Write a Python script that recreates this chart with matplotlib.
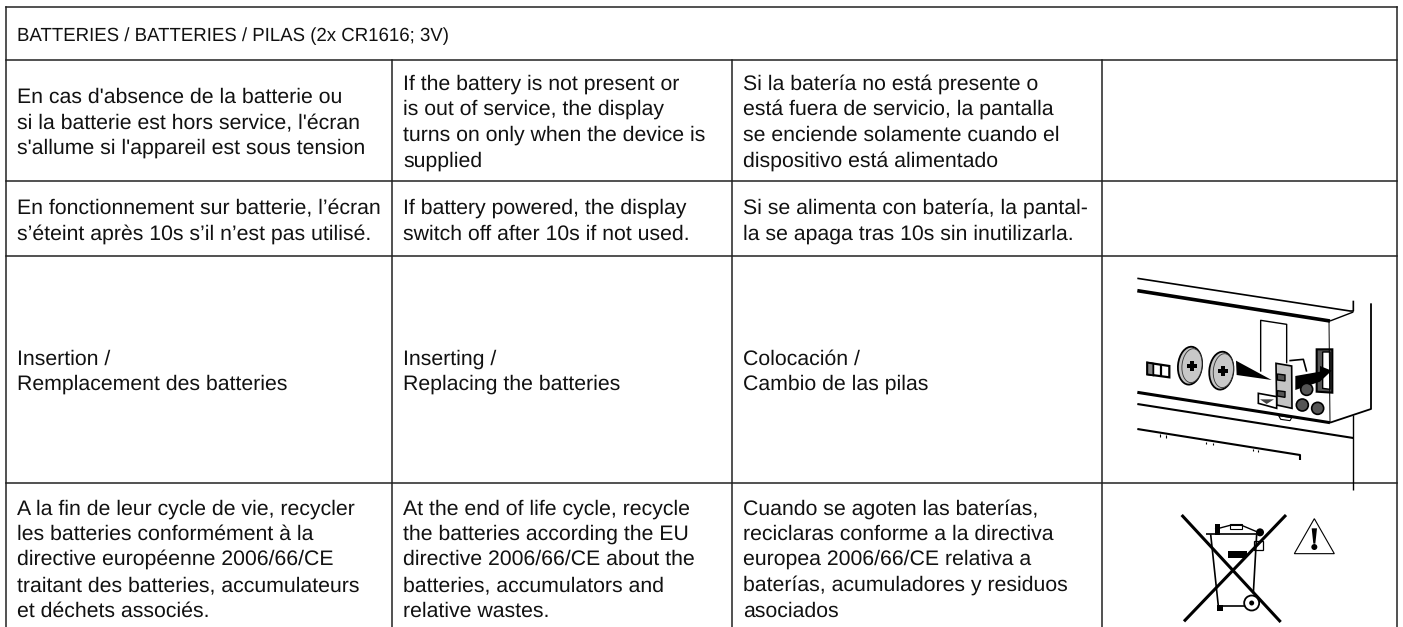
import matplotlib
matplotlib.use('Agg')
import matplotlib.pyplot as plt
from matplotlib.patches import Ellipse, Polygon, Rectangle, Circle

plt.rcParams['font.family'] = ['Liberation Sans', 'DejaVu Sans']
plt.rcParams['text.hinting'] = 'none'
plt.rcParams['text.hinting_factor'] = 8

W, H = 1403, 627
header = 'BATTERIES / BATTERIES / PILAS (2x CR1616; 3V)'
col_edges = [6, 392, 732, 1102, 1397]
row_edges = [6.5, 60, 181, 256, 483, 627]

# one entry per text line: baseline, text
fr_lines = [
    (103, "En cas d'absence de la batterie ou"),
    (129, "si la batterie est hors service, l'écran"),
    (154, "s'allume si l'appareil est sous tension"),
    (214, "En fonctionnement sur batterie, l’écran"),
    (240, "s’éteint après 10s s’il n’est pas utilisé."),
    (365, "Insertion /"),
    (390, "Remplacement des batteries"),
    (515, "A la fin de leur cycle de vie, recycler"),
    (540, "les batteries conformément à la"),
    (565, "directive européenne 2006/66/CE"),
    (591, "traitant des batteries, accumulateurs"),
    (617, "et déchets associés."),
]
en_lines = [
    (90, "If the battery is not present or"),
    (115, "is out of service, the display"),
    (141, "turns on only when the device is"),
    (167, "supplied"),
    (214, "If battery powered, the display"),
    (240, "switch off after 10s if not used."),
    (365, "Inserting /"),
    (390, "Replacing the batteries"),
    (515, "At the end of life cycle, recycle"),
    (540, "the batteries according the EU"),
    (565, "directive 2006/66/CE about the"),
    (591, "batteries, accumulators and"),
    (617, "relative wastes."),
]
es_lines = [
    (90, "Si la batería no está presente o"),
    (115, "está fuera de servicio, la pantalla"),
    (141, "se enciende solamente cuando el"),
    (167, "dispositivo está alimentado"),
    (214, "Si se alimenta con batería, la pantal-"),
    (240, "la se apaga tras 10s sin inutilizarla."),
    (365, "Colocación /"),
    (390, "Cambio de las pilas"),
    (515, "Cuando se agoten las baterías,"),
    (540, "reciclaras conforme a la directiva"),
    (565, "europea 2006/66/CE relativa a"),
    (591, "baterías, acumuladores y residuos"),
    (617, "asociados"),
]

fig = plt.figure(figsize=(W / 100, H / 100), dpi=100)
ax = fig.add_axes([0, 0, 1, 1])
ax.set_xlim(0, W)
ax.set_ylim(H, 0)
ax.axis('off')

line_col = '#222222'
for y in row_edges[:-1]:
    ax.plot([col_edges[0], col_edges[-1]], [y, y], color=line_col, lw=1.1)
for x in (col_edges[0], col_edges[-1]):
    ax.plot([x, x], [row_edges[0], H], color=line_col, lw=1.1)
for x in col_edges[1:-1]:
    ax.plot([x, x], [row_edges[1], H], color=line_col, lw=1.1)

ax.text(17, 41, header, fontsize=13.4, va='baseline', color='#111111')
for x0, lines in ((17, fr_lines), (403, en_lines), (743, es_lines)):
    for y, s in lines:
        ax.text(x0, y, s, fontsize=15.3, va='baseline', color='#111111')


# device sketch, coordinates from the 3x crop at (1090, 240)
def px(zx, zy):
    return 1090 + zx / 3, 240 + zy / 3


def stroke(points, lw=1.0):
    pts = [px(*p) for p in points]
    ax.plot([p[0] for p in pts], [p[1] for p in pts], color='black', lw=lw,
            solid_capstyle='butt')


stroke([(142, 115), (780, 213), (790, 213), (790, 182)], 1.2)
stroke([(142, 152), (720, 243)], 2.6)
stroke([(720, 243), (790, 216)], 1.0)
stroke([(717, 243), (720, 546)], 0.7)
stroke([(843, 190), (843, 507), (720, 548)], 1.3)
stroke([(142, 457), (720, 548)], 2.2)
stroke([(142, 492), (790, 594)], 1.5)
stroke([(142, 567), (630, 645), (630, 660)], 1.5)
stroke([(790, 525), (790, 750)], 1.0)
stroke([(512, 395), (512, 241), (590, 253), (590, 370)], 1.0)
for zx, zy in ((210, 583), (228, 586), (348, 605), (368, 608), (490, 626), (505, 629)):
    stroke([(zx, zy), (zx, zy + 8)], 0.8)

for zx, zy in ((300, 377), (394, 392)):
    cx, cy = px(zx, zy)
    ax.add_patch(Ellipse((cx, cy), 24, 38, angle=6, fc='#c4c4c4', ec='black', lw=1.3))
    cx2, cy2 = px(zx + 6, zy)
    ax.add_patch(Ellipse((cx2, cy2), 20, 34, angle=6, fc='#c8c8c8', ec='#333333', lw=0.6))
    ax.plot([cx2], [cy2], marker='P', color='black', ms=7, mew=0)

ax.add_patch(Polygon([px(172, 368), px(238, 378), px(238, 412), px(172, 403)],
                     fc='white', ec='black', lw=1.6))
ax.add_patch(Polygon([px(172, 368), px(190, 371), px(190, 406), px(172, 403)],
                     fc='#888888', ec='black', lw=1.3))
stroke([(212, 375), (212, 408)], 1.6)

ax.add_patch(Polygon([px(438, 362), px(545, 420), px(440, 405)], fc='black', ec='none'))
ax.add_patch(Polygon([px(558, 370), px(605, 378), px(606, 505), px(560, 495)],
                     fc='#c4c4c4', ec='black', lw=1.2))
ax.add_patch(Polygon([px(562, 402), px(585, 405), px(585, 423), px(562, 420)], fc='#555555', ec='black', lw=1))
ax.add_patch(Polygon([px(562, 452), px(585, 455), px(585, 472), px(562, 468)], fc='#555555', ec='black', lw=1))
ax.add_patch(Polygon([px(505, 460), px(560, 470), px(560, 505), px(505, 490)], fc='white', ec='black', lw=1.2))
ax.add_patch(Polygon([px(510, 478), px(552, 478), px(530, 492)], fc='#444444', ec='none'))
ax.add_patch(Polygon([px(680, 328), px(727, 328), px(727, 458), px(680, 455)], fc='#555555', ec='black', lw=1.5))
ax.add_patch(Polygon([px(698, 336), px(720, 336), px(720, 448), px(698, 445)], fc='white', ec='black', lw=1.0))
stroke([(598, 362), (640, 358), (650, 395)], 1.2)
ax.add_patch(Polygon([px(616, 408), px(690, 395), px(690, 378), px(725, 392), px(690, 425), px(616, 450)],
                     fc='black', ec='none'))
for zx, zy in ((650, 448), (637, 495), (683, 505)):
    ax.add_patch(Circle(px(zx, zy), 6, fc='#555555', ec='black', lw=1.2))
ax.add_patch(Polygon([px(566, 527), px(605, 533), px(600, 542), px(572, 538)], fc='white', ec='black', lw=0.8))


# recycling marks, coordinates from the 3x crop at (1090, 450)
def qx(zx, zy):
    return 1090 + zx / 3, 450 + zy / 3


def bin_stroke(points, lw=1.0):
    pts = [qx(*p) for p in points]
    ax.plot([p[0] for p in pts], [p[1] for p in pts], color='black', lw=lw,
            solid_capstyle='butt')


bin_stroke([(275, 195), (572, 516)], 2.2)
bin_stroke([(588, 195), (282, 514)], 2.2)
bin_stroke([(348, 253), (500, 253)], 1.2)
bin_stroke([(362, 253), (385, 468), (465, 468)], 1.2)
bin_stroke([(500, 253), (490, 430)], 1.2)
bin_stroke([(375, 238), (420, 226), (455, 226), (500, 245)], 1.0)
ax.add_patch(Rectangle(qx(420, 222), 12, 4.5, fc='white', ec='black', lw=0.8))
ax.add_patch(Rectangle(qx(375, 222), 5, 11, fc='black', ec='none'))
ax.add_patch(Circle(qx(510, 247), 4, fc='black', ec='none'))
ax.add_patch(Rectangle(qx(493, 274), 9, 9, fc='white', ec='black', lw=0.9))
ax.add_patch(Rectangle(qx(414, 303), 19, 7, fc='black', ec='none'))
ax.add_patch(Rectangle(qx(381, 466), 6, 6, fc='black', ec='none'))
ax.add_patch(Circle(qx(485, 459), 7.5, fc='white', ec='black', lw=1.3))
ax.add_patch(Circle(qx(485, 459), 2.5, fc='black', ec='none'))
ax.add_patch(Polygon([qx(673, 206), qx(733, 311), qx(613, 311)], fc='white', ec='black', lw=0.8))
ax.add_patch(Polygon([qx(665, 235), qx(681, 235), qx(676, 281), qx(670, 281)], fc='black', ec='none'))
ax.add_patch(Circle(qx(673, 291), 3, fc='black', ec='none'))

fig.savefig('out.png', dpi=100)
